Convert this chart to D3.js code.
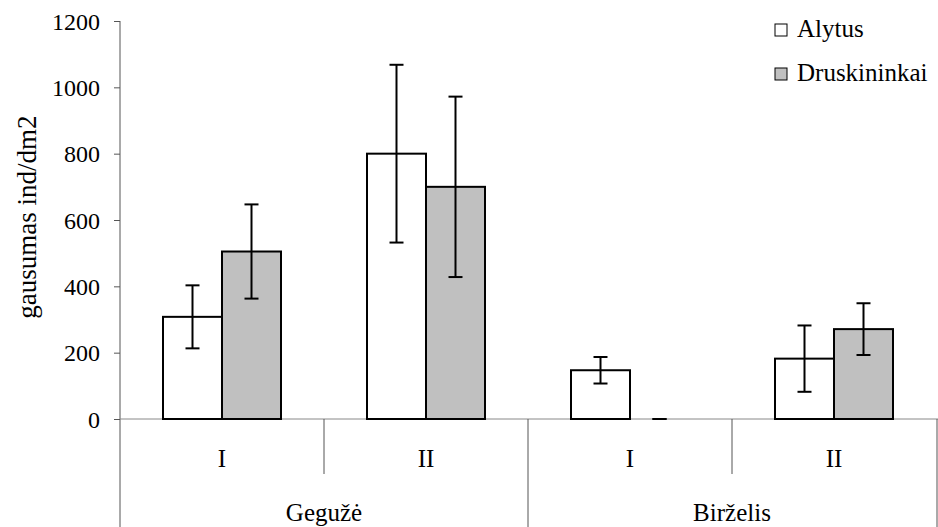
<!DOCTYPE html>
<html>
<head>
<meta charset="utf-8">
<script src="https://cdn.jsdelivr.net/npm/d3@7"></script>
<style>
  body { margin: 0; background: #fff; }
  svg text { font-family: "Liberation Serif", "Times New Roman", Times, "DejaVu Serif", serif; fill: #000; }
</style>
</head>
<body>
<div id="chart"></div>
<script>
const CATEGORIES = ["Geg-I", "Geg-II", "Bir-I", "Bir-II"];
const CATEGORY_LABELS = ["I", "II", "I", "II"];
const MONTHS = ["Gegužė", "Birželis"];
const SERIES = ["Alytus", "Druskininkai"];
const ALYTUS = [308, 800, 147, 182];
const ALYTUS_ERR = [95, 268, 40, 100];
const DRUSK = [505, 700, 0, 271];
const DRUSK_ERR = [142, 272, 0, 78];
const Y_TICKS = [0, 200, 400, 600, 800, 1000, 1200];

const WIDTH = 938;
const HEIGHT = 527;
const LEFT = 120;
const RIGHT = 936;
const TOP = 21;
const BOTTOM = 419;
const SERIF = "'Liberation Serif', 'Times New Roman', Times, 'DejaVu Serif', serif";
const COLORS = { Alytus: "#ffffff", Druskininkai: "#c0c0c0" };

const data = CATEGORIES.map((c, i) => ({
  cat: c,
  values: [
    { series: "Alytus", value: ALYTUS[i], err: ALYTUS_ERR[i] },
    { series: "Druskininkai", value: DRUSK[i], err: DRUSK_ERR[i] }
  ]
}));

const x = d3.scaleBand()
    .domain(CATEGORIES)
    .range([LEFT, RIGHT]);

const bw = x.bandwidth();
const barW = 59;
const xs = d3.scaleBand()
    .domain(SERIES)
    .range([0, bw])
    .paddingInner(0)
    .paddingOuter((bw - 2 * barW) / 2 / barW);

const y = d3.scaleLinear()
    .domain([0, 1200])
    .range([BOTTOM, TOP]);

const svg = d3.select("#chart").append("svg")
    .attr("width", WIDTH)
    .attr("height", HEIGHT)
    .style("font-family", SERIF);

// y axis
const yAxis = svg.append("g")
    .attr("transform", `translate(${LEFT},0)`)
    .call(d3.axisLeft(y).tickValues(Y_TICKS).tickFormat(d3.format("d")).tickSize(6).tickPadding(14));
yAxis.attr("font-family", SERIF);
yAxis.select(".domain").remove();
yAxis.selectAll(".tick line").attr("stroke", "#555");
yAxis.selectAll(".tick text")
    .attr("font-size", 24)
    .attr("dy", "0.34em");

svg.append("line")
    .attr("x1", LEFT).attr("x2", LEFT)
    .attr("y1", TOP).attr("y2", HEIGHT)
    .attr("stroke", "#555");

// x axis line
svg.append("line")
    .attr("x1", LEFT).attr("x2", RIGHT + 2)
    .attr("y1", BOTTOM).attr("y2", BOTTOM)
    .attr("stroke", "#888");

// category dividers
CATEGORIES.forEach((c, i) => {
  if (i === 0) return;
  const long = i % 2 === 0;
  svg.append("line")
      .attr("x1", x(c)).attr("x2", x(c))
      .attr("y1", BOTTOM).attr("y2", long ? HEIGHT : 474)
      .attr("stroke", "#555");
});
svg.append("line")
    .attr("x1", RIGHT + 1).attr("x2", RIGHT + 1)
    .attr("y1", BOTTOM).attr("y2", HEIGHT)
    .attr("stroke", "#555");

svg.selectAll(".catlabel")
  .data(CATEGORIES)
  .enter().append("text")
    .attr("class", "catlabel")
    .attr("x", d => x(d) + bw / 2)
    .attr("y", 467)
    .attr("text-anchor", "middle")
    .attr("font-size", 25)
    .text((d, i) => CATEGORY_LABELS[i]);

svg.selectAll(".month")
  .data(MONTHS)
  .enter().append("text")
    .attr("class", "month")
    .attr("x", (d, i) => x(CATEGORIES[i * 2]) + bw)
    .attr("y", 521)
    .attr("text-anchor", "middle")
    .attr("font-size", 25)
    .text(d => d);

// bars
const group = svg.selectAll(".grp")
  .data(data)
  .enter().append("g")
    .attr("class", "grp")
    .attr("transform", d => `translate(${x(d.cat)},0)`);

group.selectAll("rect")
  .data(d => d.values)
  .enter().append("rect")
    .attr("x", d => xs(d.series))
    .attr("y", d => y(d.value))
    .attr("width", xs.bandwidth())
    .attr("height", d => y(0) - y(d.value))
    .attr("fill", d => COLORS[d.series])
    .attr("stroke", "#000")
    .attr("stroke-width", 2);

// error bars
const err = group.selectAll(".err")
  .data(d => d.values)
  .enter().append("g")
    .attr("class", "err")
    .attr("stroke", "#000")
    .attr("stroke-width", 2);

const cx = d => xs(d.series) + xs.bandwidth() / 2;
err.append("line")
    .attr("x1", cx).attr("x2", cx)
    .attr("y1", d => y(d.value + d.err))
    .attr("y2", d => y(d.value - d.err));
err.append("line")
    .attr("x1", d => cx(d) - 7).attr("x2", d => cx(d) + 7)
    .attr("y1", d => y(d.value + d.err))
    .attr("y2", d => y(d.value + d.err));
err.append("line")
    .attr("x1", d => cx(d) - 7).attr("x2", d => cx(d) + 7)
    .attr("y1", d => y(d.value - d.err))
    .attr("y2", d => y(d.value - d.err));

// y title
svg.append("text")
    .attr("transform", "translate(36,217) rotate(-90)")
    .attr("text-anchor", "middle")
    .attr("font-size", 27)
    .text("gausumas ind/dm2");

// legend
const legend = svg.selectAll(".legend")
  .data(SERIES)
  .enter().append("g")
    .attr("class", "legend")
    .attr("transform", (d, i) => `translate(775,${24 + i * 44})`);

legend.append("rect")
    .attr("width", 12)
    .attr("height", 12)
    .attr("fill", d => COLORS[d])
    .attr("stroke", "#000")
    .attr("stroke-width", 1);

legend.append("text")
    .attr("x", 22)
    .attr("y", 13)
    .attr("font-size", 25)
    .text(d => d);
</script>
</body>
</html>
